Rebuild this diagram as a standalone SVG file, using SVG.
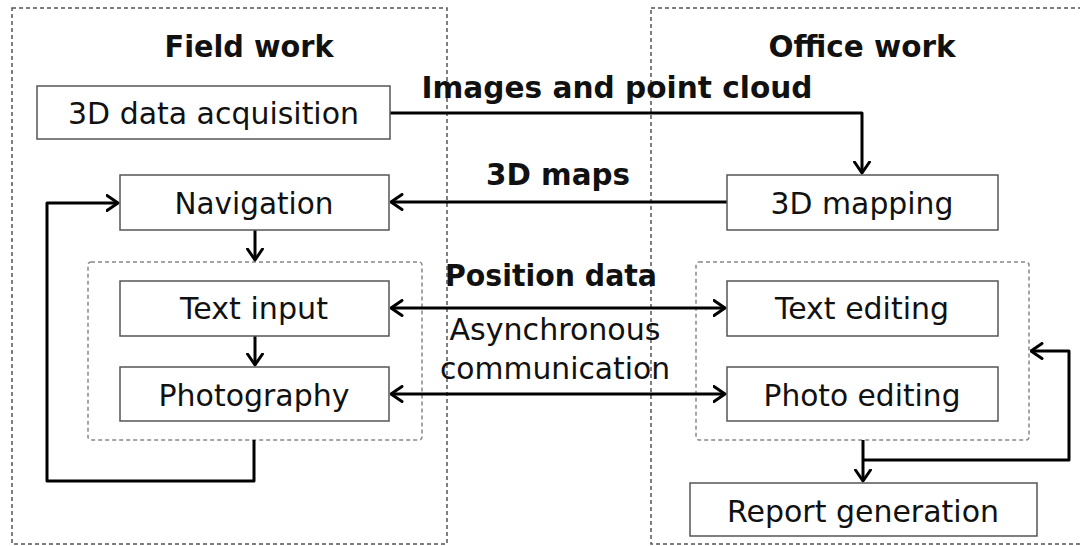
<svg xmlns="http://www.w3.org/2000/svg" width="1080" height="546" viewBox="0 0 1080 546">
<style>
.frame{fill:none;stroke:#555;stroke-width:1.5;stroke-dasharray:4 3}
.group{fill:none;stroke:#888;stroke-width:1.5;stroke-dasharray:4 3}
.box{fill:#fff;stroke:#555;stroke-width:1.5}
.t{font-family:"DejaVu Sans",Verdana,sans-serif;font-size:30px;fill:#111;text-anchor:middle}
.b{font-weight:bold}
.c{fill:none;stroke:#000;stroke-width:3;stroke-linejoin:round}
</style>
<defs>
<marker id="ah" viewBox="0 0 14 18" refX="12.5" refY="9" markerWidth="14" markerHeight="18" markerUnits="userSpaceOnUse" orient="auto-start-reverse">
<path d="M1.5,1.5 L12.5,9 L1.5,16.5" fill="none" stroke="#000" stroke-width="3" stroke-linecap="round" stroke-linejoin="round"/>
</marker>
</defs>
<rect width="1080" height="546" fill="#fff"/>
<g id="field-work">
<rect class="frame" x="12" y="8" width="435" height="536"/>
<text class="t b" x="249" y="57" textLength="169" lengthAdjust="spacingAndGlyphs">Field work</text>
</g>
<g id="office-work">
<rect class="frame" x="651" y="8" width="440" height="536"/>
<text class="t b" x="862" y="57" textLength="187" lengthAdjust="spacingAndGlyphs">Office work</text>
</g>
<g id="field-group">
<rect class="group" x="88" y="262" width="334" height="178" rx="3"/>
</g>
<g id="office-group">
<rect class="group" x="696" y="262" width="333" height="178" rx="3"/>
</g>
<g id="connectors">
<path class="c" d="M390,113 H862 V173" marker-end="url(#ah)"/>
<path class="c" d="M727,202 H391" marker-end="url(#ah)"/>
<path class="c" d="M255,230 V260" marker-end="url(#ah)"/>
<path class="c" d="M255,336 V365" marker-end="url(#ah)"/>
<path class="c" d="M391,308 H725" marker-start="url(#ah)" marker-end="url(#ah)"/>
<path class="c" d="M391,394 H725" marker-start="url(#ah)" marker-end="url(#ah)"/>
<path class="c" d="M254,440 V481 H47 V203 H118" marker-end="url(#ah)"/>
<path class="c" d="M863,440 V481" marker-end="url(#ah)"/>
<path class="c" d="M863,460 H1069 V351 H1031" marker-end="url(#ah)"/>
</g>
<g id="labels">
<text class="t b" x="617" y="98" textLength="391" lengthAdjust="spacingAndGlyphs">Images and point cloud</text>
<text class="t b" x="558" y="185" textLength="144" lengthAdjust="spacingAndGlyphs">3D maps</text>
<text class="t b" x="551" y="286" textLength="212" lengthAdjust="spacingAndGlyphs">Position data</text>
<text class="t" x="555" y="340" textLength="211" lengthAdjust="spacingAndGlyphs">Asynchronous</text>
<text class="t" x="555" y="379" textLength="230" lengthAdjust="spacingAndGlyphs">communication</text>
</g>
<g id="acquisition">
<rect class="box" x="37" y="86" width="353" height="53"/>
<text class="t" x="213.5" y="124" textLength="291" lengthAdjust="spacingAndGlyphs">3D data acquisition</text>
</g>
<g id="navigation">
<rect class="box" x="120" y="175" width="269" height="55"/>
<text class="t" x="254" y="214" textLength="159" lengthAdjust="spacingAndGlyphs">Navigation</text>
</g>
<g id="text-input">
<rect class="box" x="120" y="281" width="269" height="55"/>
<text class="t" x="254" y="319" textLength="148" lengthAdjust="spacingAndGlyphs">Text input</text>
</g>
<g id="photography">
<rect class="box" x="120" y="367" width="269" height="54"/>
<text class="t" x="254" y="406" textLength="191" lengthAdjust="spacingAndGlyphs">Photography</text>
</g>
<g id="mapping">
<rect class="box" x="727" y="175" width="271" height="55"/>
<text class="t" x="862" y="214" textLength="183" lengthAdjust="spacingAndGlyphs">3D mapping</text>
</g>
<g id="text-editing">
<rect class="box" x="727" y="281" width="271" height="55"/>
<text class="t" x="862" y="319" textLength="174" lengthAdjust="spacingAndGlyphs">Text editing</text>
</g>
<g id="photo-editing">
<rect class="box" x="727" y="367" width="271" height="54"/>
<text class="t" x="862" y="406" textLength="197" lengthAdjust="spacingAndGlyphs">Photo editing</text>
</g>
<g id="report">
<rect class="box" x="690" y="483" width="347" height="53"/>
<text class="t" x="863" y="522" textLength="272" lengthAdjust="spacingAndGlyphs">Report generation</text>
</g>
</svg>
